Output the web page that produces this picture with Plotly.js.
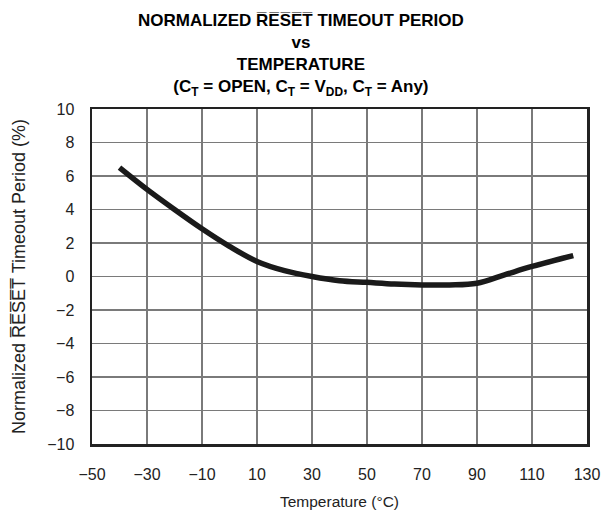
<!DOCTYPE html>
<html><head><meta charset="utf-8">
<script src="https://cdn.plot.ly/plotly-3.0.1.min.js"></script>
<style>html,body{margin:0;padding:0;background:#fff;}#chart{width:602px;height:519px;}</style>
</head><body><div id="chart"></div>
<script>
var temperature = [-40, -30, -20, -10, 0, 10, 20, 30, 40, 50, 60, 70, 80, 90, 100, 110, 125];
var timeoutPct  = [6.5, 5.2, 4.0, 2.85, 1.8, 0.9, 0.35, 0.0, -0.25, -0.35, -0.45, -0.5, -0.5, -0.4, 0.1, 0.6, 1.25];
var xTicks = [-50, -30, -10, 10, 30, 50, 70, 90, 110, 130];
var yTicks = [-10, -8, -6, -4, -2, 0, 2, 4, 6, 8, 10];
var OL = function(s){return s.split('').map(function(c){return c+'\u0305';}).join('');};
var titleText = '<b>NORMALIZED ' + OL('RESET') + ' TIMEOUT PERIOD<br>vs<br>TEMPERATURE<br>(C<sub>T</sub> = OPEN, C<sub>T</sub> = V<sub>DD</sub>, C<sub>T</sub> = Any)</b>';
var yTitle = 'Normalized ' + OL('RESET') + ' Timeout Period (%)';
var FONT = 'Liberation Sans, Arial, sans-serif';
var fmt = function(v){return v<0?'\u2212'+(-v):String(v);};

var trace = {x: temperature, y: timeoutPct, mode: 'lines', line: {color: '#1a1a1a', width: 5.5, shape: 'spline', smoothing: 1}, hoverinfo: 'none'};
var axisCommon = {showline: true, mirror: true, linecolor: '#222', linewidth: 2.5, showgrid: true, gridcolor: '#7a7a7a', gridwidth: 1.4, zeroline: false, ticks: '', tickfont: {family: FONT, size: 16, color: '#222'}};
var layout = {
  width: 602, height: 519,
  margin: {l: 92, r: 15, t: 109, b: 75},
  paper_bgcolor: '#fff', plot_bgcolor: '#fff',
  showlegend: false,
  annotations: [{text: titleText, xref: 'paper', yref: 'paper', x: (301-92)/495, y: 1 + (109-9)/335, xanchor: 'center', yanchor: 'top', showarrow: false, align: 'center', font: {family: FONT, size: 17, color: '#000'}}],
  xaxis: Object.assign({}, axisCommon, {range: [-50, 130], tickvals: xTicks, ticktext: xTicks.map(fmt), ticklabelstandoff: 14, title: {text: 'Temperature (\u00B0C)', font: {family: FONT, size: 15.5, color: '#222'}, standoff: 15}}),
  yaxis: Object.assign({}, axisCommon, {range: [-10, 10], tickvals: yTicks, ticktext: yTicks.map(fmt), ticklabelstandoff: 12, title: {text: yTitle, font: {family: FONT, size: 18, color: '#222'}, standoff: 17}})
};
Plotly.newPlot('chart', [trace], layout, {displayModeBar: false, staticPlot: true});
</script></body></html>
